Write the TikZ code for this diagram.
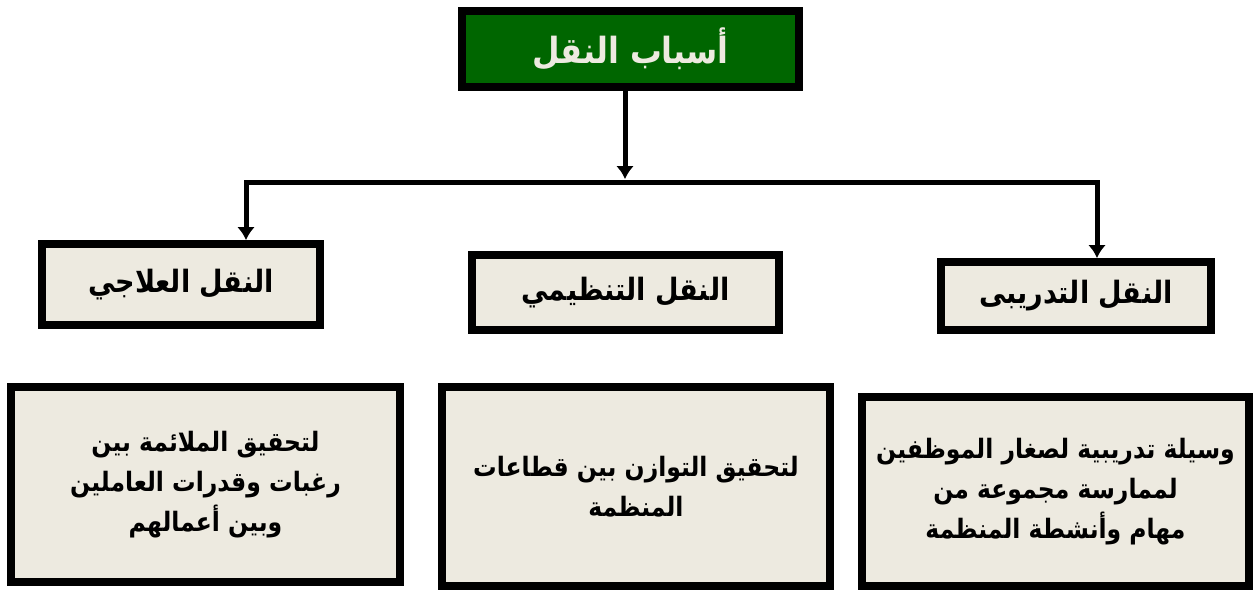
\documentclass[tikz,border=0pt]{standalone}
\usepackage{fontspec}
\newfontfamily\arabicfont[Script=Arabic,FakeStretch=0.88]{DejaVu Sans}
\TeXXeTstate=1
\usetikzlibrary{arrows.meta}
\definecolor{boxgreen}{RGB}{0,102,0}
\definecolor{boxcream}{RGB}{237,234,224}
\def\ar#1{\beginR #1\endR}

\begin{document}
\begin{tikzpicture}[x=0.02cm,y=-0.02cm]
\tikzstyle{box}=[rectangle, draw=black, line width=0.16cm, fill=boxcream, inner sep=0pt, align=center]
\tikzstyle{head}=[box, font=\arabicfont\bfseries\fontsize{17.5}{21}\selectfont]
\tikzstyle{note}=[box, font=\arabicfont\bfseries\fontsize{15.2}{22.8}\selectfont]
\tikzstyle{connect}=[-{Latex[length=2.6mm,width=3.6mm]}, line width=0.1cm]
\useasboundingbox (0,0) rectangle (1253,592);
  \node[box, fill=boxgreen, text=boxcream, font=\arabicfont\bfseries\fontsize{20.5}{24}\selectfont,
        minimum width=6.74cm, minimum height=1.52cm] (top) at (630.5,49) {\ar{أسباب النقل}};
  \node[head, minimum width=5.56cm, minimum height=1.62cm] (l) at (181,284.5) {\ar{النقل العلاجي}};
  \node[head, minimum width=6.14cm, minimum height=1.50cm] (m) at (625.5,292.5) {\ar{النقل التنظيمي}};
  \node[head, minimum width=5.40cm, minimum height=1.36cm] (r) at (1076,296) {\ar{النقل التدريبى}};
  \node[note, minimum width=7.78cm, minimum height=3.90cm] (ld) at (205.5,484.5)
    {\ar{لتحقيق الملائمة بين}\\\ar{رغبات وقدرات العاملين}\\\ar{وبين أعمالهم}};
  \node[note, minimum width=7.76cm, minimum height=3.98cm] (md) at (636,486.5)
    {\ar{لتحقيق التوازن بين قطاعات}\\\ar{المنظمة}};
  \node[note, minimum width=7.74cm, minimum height=3.78cm] (rd) at (1055.5,491.5)
    {\ar{وسيلة تدريبية لصغار الموظفين}\\\ar{لممارسة مجموعة من}\\\ar{مهام وأنشطة المنظمة}};
  % branch points
  \coordinate (jm) at (625,182);
  \coordinate (jt) at (625,179);
  \coordinate (jl) at (246,182);
  \coordinate (jr) at (1097,182);
  \draw[connect] (top.south -| jm) -- (jt);
  \draw[connect] (jm) -- (jl) -- (jl |- l.north);
  \draw[connect] (jm) -- (jr) -- (jr |- r.north);
\end{tikzpicture}
\end{document}
